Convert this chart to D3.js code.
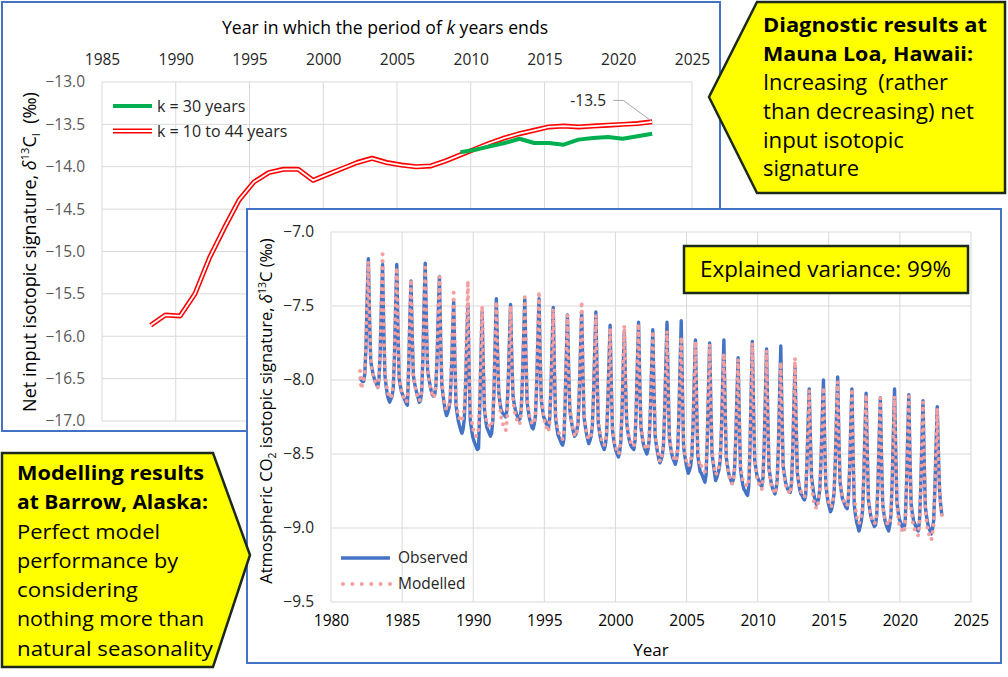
<!DOCTYPE html>
<html><head><meta charset="utf-8">
<script src="https://cdn.jsdelivr.net/npm/d3@7"></script>
<style>
body{margin:0;background:#fff}
svg{display:block}
text{font-family:"Open Sans",sans-serif;white-space:pre}
</style>
</head><body>
<svg id="c" width="1008" height="677"></svg>
<script>
// ---------- Top chart (Mauna Loa, net input isotopic signature) ----------
const kEndYears = [1988.3,1989.3,1990.3,1991.3,1992.3,1993.3,1994.3,1995.3,1996.3,1997.3,1998.3,1999.3,2000.3,2001.3,2002.3,2003.3,2004.3,2005.3,2006.3,2007.3,2008.3,2009.3,2010.3,2011.3,2012.3,2013.3,2014.3,2015.3,2016.3,2017.3,2018.3,2019.3,2020.3,2021.3,2022.3];
const k10to44 = [-15.87,-15.75,-15.76,-15.50,-15.07,-14.72,-14.39,-14.18,-14.07,-14.03,-14.03,-14.16,-14.09,-14.02,-13.95,-13.90,-13.95,-13.98,-14.00,-13.99,-13.93,-13.86,-13.79,-13.72,-13.66,-13.61,-13.57,-13.53,-13.52,-13.53,-13.52,-13.51,-13.50,-13.49,-13.47];
const k30EndYears = [2009.3,2010.3,2011.3,2012.3,2013.3,2014.3,2015.3,2016.3,2017.3,2018.3,2019.3,2020.3,2021.3,2022.3];
const k30 = [-13.83,-13.80,-13.76,-13.72,-13.67,-13.72,-13.72,-13.74,-13.68,-13.66,-13.65,-13.67,-13.64,-13.61];
const topXTicks = [1985,1990,1995,2000,2005,2010,2015,2020,2025];
const topYTicks = [-17,-16.5,-16,-15.5,-15,-14.5,-14,-13.5,-13];
const topLegend = ["k = 30 years","k = 10 to 44 years"];
const lastLabel = "-13.5";

// ---------- Bottom chart (Barrow, monthly δ13C) ----------
const obsStartYear = 1982;
const observed = [
-7.98,-8.00,-8.01,-8.01,-7.96,-7.78,-7.45,-7.18,-7.57,-7.87,-7.92,-7.96,
-7.99,-8.01,-8.03,-8.05,-7.99,-7.82,-7.49,-7.22,-7.64,-7.97,-8.04,-8.10,
-8.13,-8.15,-8.13,-8.11,-8.06,-7.85,-7.52,-7.22,-7.65,-7.99,-8.04,-8.08,
-8.10,-8.12,-8.14,-8.16,-8.17,-7.92,-7.60,-7.33,-7.69,-7.97,-8.02,-8.06,
-8.09,-8.12,-8.15,-8.14,-8.08,-7.86,-7.50,-7.21,-7.61,-7.93,-7.99,-8.03,
-8.07,-8.10,-8.11,-8.10,-8.04,-7.85,-7.55,-7.30,-7.72,-8.03,-8.10,-8.16,
-8.21,-8.24,-8.22,-8.19,-8.14,-7.96,-7.70,-7.47,-7.86,-8.17,-8.23,-8.28,
-8.31,-8.34,-8.36,-8.33,-8.26,-8.05,-7.75,-7.49,-7.93,-8.27,-8.33,-8.38,
-8.41,-8.43,-8.45,-8.47,-8.46,-8.18,-7.85,-7.54,-7.91,-8.20,-8.27,-8.32,
-8.34,-8.36,-8.38,-8.36,-8.28,-8.08,-7.75,-7.45,-7.80,-8.08,-8.15,-8.20,
-8.22,-8.23,-8.24,-8.25,-8.20,-8.02,-7.75,-7.49,-7.83,-8.10,-8.16,-8.20,
-8.23,-8.25,-8.27,-8.26,-8.20,-8.00,-7.72,-7.45,-7.84,-8.15,-8.21,-8.26,
-8.29,-8.32,-8.33,-8.30,-8.24,-8.04,-7.74,-7.45,-7.84,-8.14,-8.20,-8.25,
-8.27,-8.29,-8.31,-8.32,-8.26,-8.07,-7.78,-7.51,-7.93,-8.26,-8.32,-8.37,
-8.39,-8.41,-8.43,-8.44,-8.40,-8.17,-7.85,-7.56,-7.92,-8.20,-8.26,-8.31,
-8.35,-8.38,-8.37,-8.34,-8.28,-8.08,-7.80,-7.54,-7.93,-8.25,-8.31,-8.36,
-8.40,-8.43,-8.41,-8.38,-8.31,-8.10,-7.80,-7.54,-7.95,-8.29,-8.35,-8.40,
-8.43,-8.45,-8.47,-8.44,-8.37,-8.17,-7.89,-7.63,-8.02,-8.34,-8.40,-8.45,
-8.48,-8.50,-8.52,-8.49,-8.42,-8.22,-7.93,-7.67,-8.02,-8.29,-8.35,-8.40,
-8.43,-8.45,-8.46,-8.47,-8.41,-8.20,-7.89,-7.61,-8.00,-8.32,-8.38,-8.43,
-8.46,-8.48,-8.50,-8.47,-8.40,-8.20,-7.92,-7.66,-8.06,-8.38,-8.44,-8.49,
-8.53,-8.56,-8.54,-8.51,-8.44,-8.22,-7.90,-7.61,-8.04,-8.39,-8.45,-8.50,
-8.53,-8.55,-8.57,-8.54,-8.47,-8.25,-7.92,-7.60,-8.06,-8.45,-8.51,-8.56,
-8.60,-8.63,-8.61,-8.58,-8.51,-8.30,-8.00,-7.73,-8.16,-8.51,-8.57,-8.62,
-8.63,-8.65,-8.67,-8.69,-8.64,-8.40,-8.06,-7.75,-8.17,-8.50,-8.56,-8.62,
-8.68,-8.66,-8.63,-8.60,-8.53,-8.32,-8.01,-7.73,-8.17,-8.52,-8.58,-8.63,
-8.66,-8.68,-8.70,-8.67,-8.60,-8.40,-8.11,-7.85,-8.26,-8.60,-8.66,-8.71,
-8.74,-8.75,-8.77,-8.78,-8.72,-8.47,-8.09,-7.74,-8.18,-8.54,-8.60,-8.65,
-8.67,-8.69,-8.71,-8.72,-8.66,-8.44,-8.11,-7.79,-8.23,-8.59,-8.65,-8.70,
-8.73,-8.75,-8.77,-8.74,-8.67,-8.45,-8.10,-7.77,-8.22,-8.58,-8.64,-8.69,
-8.72,-8.74,-8.75,-8.76,-8.70,-8.50,-8.19,-7.91,-8.31,-8.63,-8.69,-8.74,
-8.77,-8.78,-8.80,-8.81,-8.78,-8.58,-8.31,-8.06,-8.40,-8.66,-8.72,-8.78,
-8.81,-8.84,-8.83,-8.80,-8.73,-8.53,-8.25,-8.00,-8.40,-8.71,-8.77,-8.83,
-8.86,-8.89,-8.87,-8.83,-8.76,-8.55,-8.25,-7.98,-8.38,-8.69,-8.75,-8.80,
-8.82,-8.84,-8.86,-8.87,-8.81,-8.62,-8.33,-8.06,-8.49,-8.84,-8.91,-8.96,
-8.99,-9.02,-8.99,-8.95,-8.88,-8.66,-8.36,-8.09,-8.49,-8.81,-8.87,-8.92,
-8.95,-8.97,-8.99,-8.98,-8.91,-8.70,-8.40,-8.12,-8.52,-8.84,-8.90,-8.95,
-8.98,-9.00,-9.02,-8.98,-8.91,-8.68,-8.36,-8.06,-8.48,-8.83,-8.89,-8.94,
-8.96,-8.98,-9.00,-9.01,-8.95,-8.73,-8.41,-8.10,-8.51,-8.84,-8.90,-8.95,
-8.97,-8.99,-9.01,-9.02,-8.96,-8.75,-8.44,-8.14,-8.54,-8.86,-8.92,-8.97,
-9.00,-9.02,-9.04,-9.01,-8.95,-8.74,-8.45,-8.18,-8.50,-8.75,-8.85,-8.92
];
const modelled = [
-7.94,-8.06,-8.03,-8.00,-7.95,-7.76,-7.44,-7.20,-7.56,-7.86,-7.92,-7.97,
-8.00,-8.02,-8.04,-8.05,-7.98,-7.80,-7.45,-7.15,-7.60,-7.95,-8.02,-8.07,
-8.10,-8.12,-8.12,-8.10,-8.04,-7.84,-7.52,-7.24,-7.64,-7.97,-8.03,-8.08,
-8.10,-8.12,-8.14,-8.15,-8.13,-7.90,-7.58,-7.32,-7.68,-7.96,-8.02,-8.07,
-8.10,-8.12,-8.14,-8.13,-8.07,-7.87,-7.52,-7.24,-7.62,-7.93,-7.99,-8.04,
-8.07,-8.10,-8.12,-8.10,-8.04,-7.84,-7.55,-7.30,-7.70,-8.01,-8.08,-8.14,
-8.18,-8.20,-8.19,-8.17,-8.12,-7.93,-7.66,-7.41,-7.83,-8.14,-8.20,-8.24,
-8.26,-8.28,-8.27,-8.25,-8.19,-7.98,-7.65,-7.33,-7.86,-8.20,-8.27,-8.32,
-8.35,-8.37,-8.38,-8.37,-8.33,-8.12,-7.80,-7.50,-7.88,-8.18,-8.25,-8.29,
-8.29,-8.31,-8.32,-8.31,-8.25,-8.05,-7.75,-7.47,-7.81,-8.10,-8.18,-8.25,
-8.28,-8.31,-8.33,-8.34,-8.27,-8.05,-7.77,-7.50,-7.84,-8.12,-8.19,-8.24,
-8.26,-8.28,-8.30,-8.29,-8.22,-8.01,-7.72,-7.44,-7.82,-8.12,-8.19,-8.24,
-8.27,-8.29,-8.30,-8.28,-8.22,-8.01,-7.70,-7.40,-7.81,-8.12,-8.19,-8.25,
-8.29,-8.31,-8.33,-8.35,-8.28,-8.08,-7.79,-7.52,-7.92,-8.23,-8.29,-8.34,
-8.36,-8.38,-8.39,-8.40,-8.36,-8.14,-7.84,-7.56,-7.91,-8.19,-8.25,-8.31,
-8.34,-8.37,-8.38,-8.35,-8.28,-8.06,-7.76,-7.47,-7.90,-8.23,-8.30,-8.35,
-8.38,-8.40,-8.39,-8.37,-8.31,-8.10,-7.81,-7.56,-7.95,-8.27,-8.33,-8.38,
-8.41,-8.43,-8.44,-8.42,-8.36,-8.16,-7.90,-7.65,-8.02,-8.32,-8.39,-8.44,
-8.46,-8.48,-8.50,-8.48,-8.41,-8.20,-7.90,-7.63,-8.00,-8.28,-8.34,-8.39,
-8.41,-8.43,-8.44,-8.45,-8.40,-8.19,-7.89,-7.62,-8.00,-8.31,-8.37,-8.42,
-8.44,-8.46,-8.47,-8.45,-8.39,-8.19,-7.92,-7.67,-8.05,-8.36,-8.42,-8.47,
-8.51,-8.55,-8.53,-8.50,-8.44,-8.23,-7.94,-7.67,-8.06,-8.38,-8.44,-8.49,
-8.51,-8.53,-8.55,-8.53,-8.47,-8.27,-7.98,-7.71,-8.10,-8.43,-8.49,-8.54,
-8.56,-8.58,-8.57,-8.55,-8.49,-8.29,-8.01,-7.74,-8.15,-8.48,-8.54,-8.59,
-8.58,-8.60,-8.61,-8.62,-8.58,-8.37,-8.06,-7.76,-8.16,-8.48,-8.54,-8.60,
-8.64,-8.63,-8.61,-8.58,-8.52,-8.33,-8.06,-7.82,-8.20,-8.52,-8.58,-8.64,
-8.66,-8.68,-8.70,-8.67,-8.60,-8.40,-8.12,-7.86,-8.25,-8.57,-8.63,-8.68,
-8.69,-8.70,-8.71,-8.72,-8.67,-8.44,-8.08,-7.75,-8.17,-8.54,-8.61,-8.67,
-8.69,-8.71,-8.73,-8.74,-8.68,-8.46,-8.13,-7.80,-8.24,-8.60,-8.66,-8.71,
-8.73,-8.75,-8.77,-8.75,-8.68,-8.48,-8.17,-7.88,-8.27,-8.60,-8.66,-8.71,
-8.73,-8.75,-8.76,-8.77,-8.71,-8.49,-8.17,-7.85,-8.29,-8.62,-8.68,-8.73,
-8.75,-8.77,-8.78,-8.79,-8.76,-8.57,-8.31,-8.07,-8.42,-8.70,-8.77,-8.83,
-8.84,-8.87,-8.85,-8.81,-8.74,-8.55,-8.29,-8.05,-8.41,-8.70,-8.76,-8.81,
-8.84,-8.86,-8.85,-8.82,-8.75,-8.55,-8.26,-8.01,-8.38,-8.68,-8.74,-8.79,
-8.81,-8.83,-8.84,-8.85,-8.80,-8.61,-8.33,-8.06,-8.46,-8.79,-8.86,-8.92,
-8.95,-8.97,-8.95,-8.92,-8.86,-8.65,-8.37,-8.10,-8.49,-8.81,-8.87,-8.92,
-8.94,-8.96,-8.97,-8.96,-8.90,-8.70,-8.40,-8.12,-8.52,-8.84,-8.90,-8.95,
-8.96,-8.97,-8.98,-8.96,-8.90,-8.68,-8.39,-8.11,-8.51,-8.85,-8.92,-8.98,
-8.99,-9.01,-9.02,-9.03,-8.97,-8.75,-8.43,-8.11,-8.53,-8.87,-8.94,-9.00,
-9.01,-9.03,-9.04,-9.05,-8.98,-8.77,-8.46,-8.15,-8.55,-8.88,-8.95,-9.01,
-9.04,-9.06,-9.08,-9.04,-8.97,-8.76,-8.46,-8.19,-8.51,-8.76,-8.86,-8.93
];
const botXTicks = [1980,1985,1990,1995,2000,2005,2010,2015,2020,2025];
const botYTicks = [-9.5,-9,-8.5,-8,-7.5,-7];
const botLegend = ["Observed","Modelled"];
const varianceText = "Explained variance: 99%";

// [text, bold, width in reference]
const maunaLines = [["Diagnostic results at",true,224],["Mauna Loa, Hawaii:",true,210],["Increasing  (rather",false,185],["than decreasing) net",false,211],["input isotopic",false,141],["signature",false,96]];
const barrowLines = [["Modelling results",true,187],["at Barrow, Alaska:",true,191],["Perfect model",false,143],["performance by",false,161],["considering",false,121],["nothing more than",false,187],["natural seasonality",false,196]];

// ---------- colours ----------
const BORDER = "#4472C4", GRID = "#d9d9d9", GREEN = "#00B050", RED = "#FF0000",
      BLUE = "#4472C4", PINK = "#F4A0A0", YELLOW = "#FFFF00", DARK = "#1c2a1c";

const svg = d3.select("#c");

// ================= TOP CHART =================
const topG = svg.append("g");
topG.append("rect").attr("x",2).attr("y",2).attr("width",718).attr("height",429)
  .attr("fill","#fff").attr("stroke",BORDER).attr("stroke-width",2);

const xT = d3.scaleLinear().domain([1985,2025]).range([102,692]);
const yT = d3.scaleLinear().domain([-17,-13]).range([421,82]);

topG.append("g").selectAll("line").data(topXTicks).join("line")
  .attr("x1",d=>xT(d)).attr("x2",d=>xT(d)).attr("y1",yT(-13)).attr("y2",yT(-17))
  .attr("stroke",GRID).attr("stroke-width",1);
topG.append("g").selectAll("line").data(topYTicks).join("line")
  .attr("y1",d=>yT(d)).attr("y2",d=>yT(d)).attr("x1",xT(1985)).attr("x2",xT(2025))
  .attr("stroke",GRID).attr("stroke-width",1);

const axTop = topG.append("g").attr("transform",`translate(0,${yT(-13)})`)
  .call(d3.axisTop(xT).tickValues(topXTicks).tickFormat(d3.format("d")).tickSize(0).tickPadding(17));
axTop.select(".domain").remove();
axTop.selectAll("text").attr("font-size",15.5).attr("font-family","Open Sans").attr("fill","#262626");

const axLeftT = topG.append("g").attr("transform",`translate(${xT(1985)},0)`)
  .call(d3.axisLeft(yT).tickValues(topYTicks).tickFormat(d3.format(".1f")).tickSize(0).tickPadding(17));
axLeftT.select(".domain").remove();
axLeftT.selectAll("text").attr("font-size",15.5).attr("font-family","Open Sans").attr("fill","#595959");

const tt = topG.append("text").attr("x",385).attr("y",34).attr("text-anchor","middle")
  .attr("font-size",17.6).attr("fill","#000");
tt.append("tspan").text("Year in which the period of ");
tt.append("tspan").attr("font-style","italic").text("k");
tt.append("tspan").text(" years ends");

const yt = topG.append("text").attr("transform","translate(36,252) rotate(-90)")
  .attr("text-anchor","middle").attr("font-size",18).attr("fill","#000");
yt.append("tspan").text("Net input isotopic signature, ");
yt.append("tspan").attr("font-style","italic").text("δ");
yt.append("tspan").attr("font-size",11).attr("dy",-7).text("13");
yt.append("tspan").attr("dy",7).text("C");
yt.append("tspan").attr("font-size",11).attr("dy",4).text("I");
yt.append("tspan").attr("dy",-4).text("  (‰)");

const lineT = d3.line().x(d=>xT(d[0])).y(d=>yT(d[1]));
const redData = kEndYears.map((y,i)=>[y,k10to44[i]]);
const greenData = k30EndYears.map((y,i)=>[y,k30[i]]);
topG.append("path").attr("d",lineT(redData)).attr("fill","none").attr("stroke",RED).attr("stroke-width",5).attr("stroke-linejoin","round");
topG.append("path").attr("d",lineT(redData)).attr("fill","none").attr("stroke","#fff").attr("stroke-width",1.8).attr("stroke-linejoin","round");
topG.append("path").attr("d",lineT(greenData)).attr("fill","none").attr("stroke",GREEN).attr("stroke-width",4).attr("stroke-linejoin","round");

const lg = topG.append("g");
lg.append("line").attr("x1",113).attr("x2",152).attr("y1",106).attr("y2",106).attr("stroke",GREEN).attr("stroke-width",4);
lg.append("line").attr("x1",113).attr("x2",152).attr("y1",131).attr("y2",131).attr("stroke",RED).attr("stroke-width",5);
lg.append("line").attr("x1",113).attr("x2",152).attr("y1",131).attr("y2",131).attr("stroke","#fff").attr("stroke-width",1.8);
lg.selectAll("text").data(topLegend).join("text")
  .attr("x",157).attr("y",(d,i)=>106+i*25).attr("dy","0.35em").attr("font-size",16).attr("fill","#262626").text(d=>d);

const lastX = xT(kEndYears[kEndYears.length-1]), lastY = yT(k10to44[k10to44.length-1]);
topG.append("path").attr("d",`M${lastX-1},${lastY-1} L${lastX-29},${yT(-13.5)-24} L${lastX-39},${yT(-13.5)-24}`)
  .attr("fill","none").attr("stroke","#a6a6a6").attr("stroke-width",1);
topG.append("text").attr("x",lastX-64).attr("y",yT(-13.5)-24).attr("dy","0.35em").attr("text-anchor","middle")
  .attr("font-size",15.5).attr("fill","#262626").text(lastLabel);

// ================= BOTTOM CHART =================
const botG = svg.append("g");
botG.append("rect").attr("x",247).attr("y",209).attr("width",754).attr("height",454)
  .attr("fill","#fff").attr("stroke",BORDER).attr("stroke-width",2);

const xB = d3.scaleLinear().domain([1980,2025]).range([331,971]);
const yB = d3.scaleLinear().domain([-9.5,-7]).range([602,232]);

botG.append("g").selectAll("line").data(botXTicks).join("line")
  .attr("x1",d=>xB(d)).attr("x2",d=>xB(d)).attr("y1",yB(-7)).attr("y2",yB(-9.5))
  .attr("stroke",GRID).attr("stroke-width",1);
botG.append("g").selectAll("line").data(botYTicks).join("line")
  .attr("y1",d=>yB(d)).attr("y2",d=>yB(d)).attr("x1",xB(1980)).attr("x2",xB(2025))
  .attr("stroke",GRID).attr("stroke-width",1);

const axB = botG.append("g").attr("transform",`translate(0,${yB(-9.5)})`)
  .call(d3.axisBottom(xB).tickValues(botXTicks).tickFormat(d3.format("d")).tickSize(0).tickPadding(13));
axB.select(".domain").remove();
axB.selectAll("text").attr("font-size",15.5).attr("font-family","Open Sans").attr("fill","#000");

const axLB = botG.append("g").attr("transform",`translate(${xB(1980)},0)`)
  .call(d3.axisLeft(yB).tickValues(botYTicks).tickFormat(d3.format(".1f")).tickSize(0).tickPadding(17));
axLB.select(".domain").remove();
axLB.selectAll("text").attr("font-size",15.5).attr("font-family","Open Sans").attr("fill","#262626");

botG.append("text").attr("x",651).attr("y",656).attr("text-anchor","middle").attr("font-size",17).attr("fill","#000").text("Year");

const yb = botG.append("text").attr("transform","translate(272,411) rotate(-90)")
  .attr("text-anchor","middle").attr("font-size",16.5).attr("fill","#000");
yb.append("tspan").text("Atmospheric CO");
yb.append("tspan").attr("font-size",10.5).attr("dy",4).text("2");
yb.append("tspan").attr("dy",-4).text(" isotopic signature, ");
yb.append("tspan").attr("font-style","italic").text("δ");
yb.append("tspan").attr("font-size",10.5).attr("dy",-6).text("13");
yb.append("tspan").attr("dy",6).text("C (‰)");

const tOf = i => obsStartYear + (i + 0.5) / 12;
const lineB = d3.line().x((d,i)=>xB(tOf(i))).y(d=>yB(d));
botG.append("path").attr("d",lineB(observed)).attr("fill","none").attr("stroke",BLUE).attr("stroke-width",3.4).attr("stroke-linejoin","round");
botG.append("path").attr("d",lineB(modelled)).attr("fill","none").attr("stroke",PINK).attr("stroke-width",4)
  .attr("stroke-linecap","round").attr("stroke-dasharray","0 7");

botG.append("line").attr("x1",341).attr("x2",390).attr("y1",558).attr("y2",558).attr("stroke",BLUE).attr("stroke-width",3.4);
botG.append("line").attr("x1",343).attr("x2",390).attr("y1",584).attr("y2",584).attr("stroke",PINK).attr("stroke-width",4)
  .attr("stroke-linecap","round").attr("stroke-dasharray","0 9.4");
botG.selectAll("text.lg").data(botLegend).join("text").attr("class","lg")
  .attr("x",398).attr("y",(d,i)=>558+i*26).attr("dy","0.35em").attr("font-size",15.5).attr("fill","#262626").text(d=>d);

botG.append("rect").attr("x",684).attr("y",246).attr("width",284).attr("height",47)
  .attr("fill",YELLOW).attr("stroke",DARK).attr("stroke-width",2.5);
botG.append("text").attr("x",700).attr("y",270).attr("dy","0.35em")
  .attr("font-size",21).attr("fill","#000").attr("textLength",251).attr("lengthAdjust","spacingAndGlyphs").text(varianceText);

// ================= CALLOUTS =================
const ml = svg.append("g");
ml.append("polygon").attr("points","757,2 1005,2 1005,193 757,193 709,97")
  .attr("fill",YELLOW).attr("stroke",DARK).attr("stroke-width",2.5).attr("stroke-linejoin","miter");
ml.selectAll("text").data(maunaLines).join("text")
  .attr("x",763).attr("y",(d,i)=>25+i*28.7).attr("dy","0.36em")
  .attr("font-size",d=>d[1]?20:22).attr("font-weight",d=>d[1]?700:400).attr("fill","#000")
  .attr("textLength",d=>d[2]).attr("lengthAdjust","spacingAndGlyphs").text(d=>d[0]);

const br = svg.append("g");
br.append("polygon").attr("points","2,453 213,453 250,555 213,667 2,667")
  .attr("fill",YELLOW).attr("stroke",DARK).attr("stroke-width",2.5);
br.selectAll("text").data(barrowLines).join("text")
  .attr("x",17).attr("y",(d,i)=>473+i*29.2).attr("dy","0.36em")
  .attr("font-size",d=>d[1]?19.5:20.5).attr("font-weight",d=>d[1]?700:400).attr("fill","#000")
  .attr("textLength",d=>d[2]).attr("lengthAdjust","spacingAndGlyphs").text(d=>d[0]);
</script>
</body></html>
